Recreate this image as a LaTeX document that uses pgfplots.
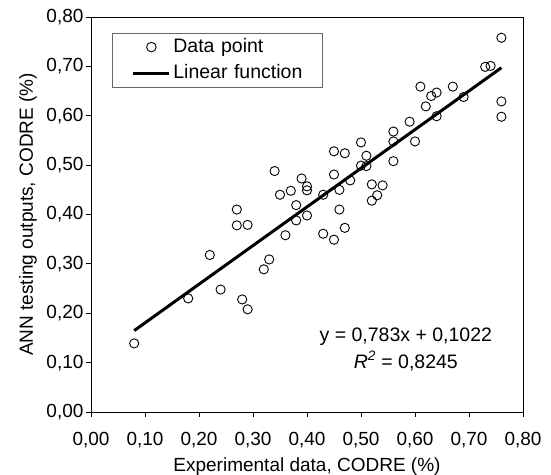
\documentclass[border=0pt]{standalone}
\usepackage{pgfplots}
\pgfplotsset{compat=1.18}
\usepackage{fontspec}
\setmainfont{Liberation Sans}
\pgfplotsset{
  markimg/.style={legend image code/.code={\path[draw=none] (-21bp,-5bp) rectangle (38bp,5bp); \draw[##1] plot[mark=o, mark size=4.8bp, mark options={line width=0.9bp, draw=black}] coordinates {(18bp,0bp)};}},
  lineimg/.style={legend image code/.code={\path[draw=none] (-21bp,-5bp) rectangle (38bp,5bp); \draw[##1] (0bp,0bp) -- (36bp,0bp);}},
}
\begin{document}
\begin{tikzpicture}[font=\fontsize{19bp}{22bp}\selectfont]
\path[use as bounding box] (-91bp,-63bp) rectangle (460bp,412bp);
\begin{axis}[
  at={(0,0)}, anchor=south west,
  scale only axis, width=432bp, height=395bp,
  xmin=0, xmax=0.8, ymin=0, ymax=0.8,
  xtick={0,0.1,...,0.8}, ytick={0,0.1,...,0.8},
  tick pos=left, tick align=outside,
  major tick length=5bp,
  axis line style={line width=0.9bp},
  every tick/.style={black, line width=0.9bp},
  /pgf/number format/.cd, fixed, fixed zerofill, precision=2, use comma, assume math mode=true,
  /pgfplots/.cd,
  xticklabel style={font=\fontsize{19bp}{22bp}\selectfont, yshift=-12bp},
  yticklabel style={font=\fontsize{19bp}{22bp}\selectfont, xshift=1bp},
  xlabel={Experimental data, CODRE (\%)},
  ylabel={ANN testing outputs, CODRE (\%)},
  xlabel style={at={(axis description cs:0.5,-0.1494)}, anchor=base},
  ylabel style={at={(axis description cs:-0.1343,0.5)}, anchor=base},
  legend style={at={(axis description cs:0.0486,0.9595)}, anchor=north west,
    draw=black!60, line width=0.8bp, inner xsep=0bp, inner ysep=0.6bp,
    column sep=0bp,
    nodes={text height=14bp, text depth=4bp, inner ysep=4.1bp, inner xsep=2bp,
      text width=147bp, align=left},
    font=\fontsize{19.5bp}{22bp}\selectfont},
  legend cell align=left,
]
\addplot[draw=none, mark=o, mark size=4.6bp, mark options={line width=0.9bp, draw=black}, markimg]
coordinates {
(0.08,0.139) (0.18,0.230) (0.22,0.318) (0.24,0.248) (0.27,0.410) (0.27,0.378)
(0.28,0.228) (0.29,0.379) (0.29,0.208) (0.32,0.289) (0.33,0.309) (0.34,0.488)
(0.35,0.440) (0.36,0.358) (0.37,0.448) (0.38,0.419) (0.38,0.388) (0.39,0.473)
(0.40,0.457) (0.40,0.449) (0.40,0.398) (0.43,0.440) (0.43,0.361) (0.45,0.349)
(0.45,0.528) (0.45,0.481) (0.46,0.450) (0.46,0.410) (0.47,0.524) (0.47,0.373)
(0.48,0.469) (0.50,0.546) (0.50,0.499) (0.51,0.519) (0.51,0.498) (0.52,0.461)
(0.52,0.428) (0.53,0.439) (0.54,0.459) (0.56,0.568) (0.56,0.548) (0.56,0.508)
(0.59,0.588) (0.60,0.548) (0.61,0.659) (0.62,0.619) (0.63,0.640) (0.64,0.647)
(0.64,0.599) (0.67,0.659) (0.69,0.638) (0.73,0.699) (0.74,0.701) (0.76,0.758)
(0.76,0.629) (0.76,0.598)
};
\addlegendentry{Data point}
\addplot[black, line width=3bp, no marks, lineimg]
coordinates {(0.08,0.16484) (0.76,0.69728)};
\addlegendentry{Linear function}
\node[align=center, font=\fontsize{19.5bp}{27bp}\selectfont] at (axis cs:0.583,0.127)
  {y = 0,783x + 0,1022\\\textit{R}\textsuperscript{\textit{2}} = 0,8245};
\end{axis}
\end{tikzpicture}
\end{document}
